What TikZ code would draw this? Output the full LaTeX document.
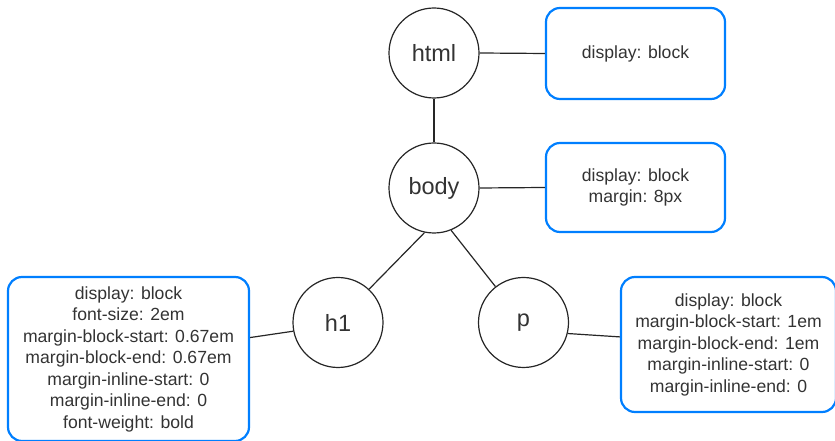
\documentclass[tikz,border=0pt]{standalone}
\usepackage{fontspec}
\setmainfont{Liberation Sans}
\definecolor{boxblue}{RGB}{0,127,255}
\definecolor{txt}{RGB}{51,51,51}
\begin{document}
\begin{tikzpicture}[x=1pt,y=1pt,
  elem/.style={circle,draw=black!85,line width=1.2pt,minimum size=90pt,inner sep=0pt,
    text=txt,font=\fontsize{23.5}{28}\selectfont},
  propbox/.style={draw=boxblue,line width=2.2pt,rounded corners=14pt,inner sep=0pt,
    align=center,text=txt,font=\fontsize{17.6}{21.5}\selectfont},
  link/.style={draw=black!85,line width=1.2pt}]
\useasboundingbox (0,0) rectangle (835,441);
\node[elem] (html) at (434,388) {html};
\node[elem] (body) at (434,253) {body};
\node[elem] (h1) at (338,118.5) {h1};
\node[elem] (p) at (523.5,118.5) {p};
\node[propbox,minimum width=179pt,minimum height=91pt] (htmlbox) at (635.5,387.5) {display: block};
\node[propbox,minimum width=179pt,minimum height=89pt] (bodybox) at (635.5,253.5) {display: block\\margin: 8px};
\node[propbox,minimum width=241pt,minimum height=164pt] (h1box) at (128.5,82) {display: block\\font-size: 2em\\margin-block-start: 0.67em\\margin-block-end: 0.67em\\margin-inline-start: 0\\margin-inline-end: 0\\font-weight: bold};
\node[propbox,minimum width=215pt,minimum height=135pt] (pbox) at (728.5,96.5) {display: block\\margin-block-start: 1em\\margin-block-end: 1em\\margin-inline-start: 0\\margin-inline-end: 0};
\draw[link] (html.south) -- (body.north);
\draw[link] (html.east) -- (htmlbox.west);
\draw[link] (body.east) -- (bodybox.west);
\draw[link] (body.258) -- (h1.47);
\draw[link] (body.292) -- (p.128);
\draw[link] (h1.191) -- (h1box.10);
\draw[link] (p.-14) -- (pbox.176);
\end{tikzpicture}
\end{document}
